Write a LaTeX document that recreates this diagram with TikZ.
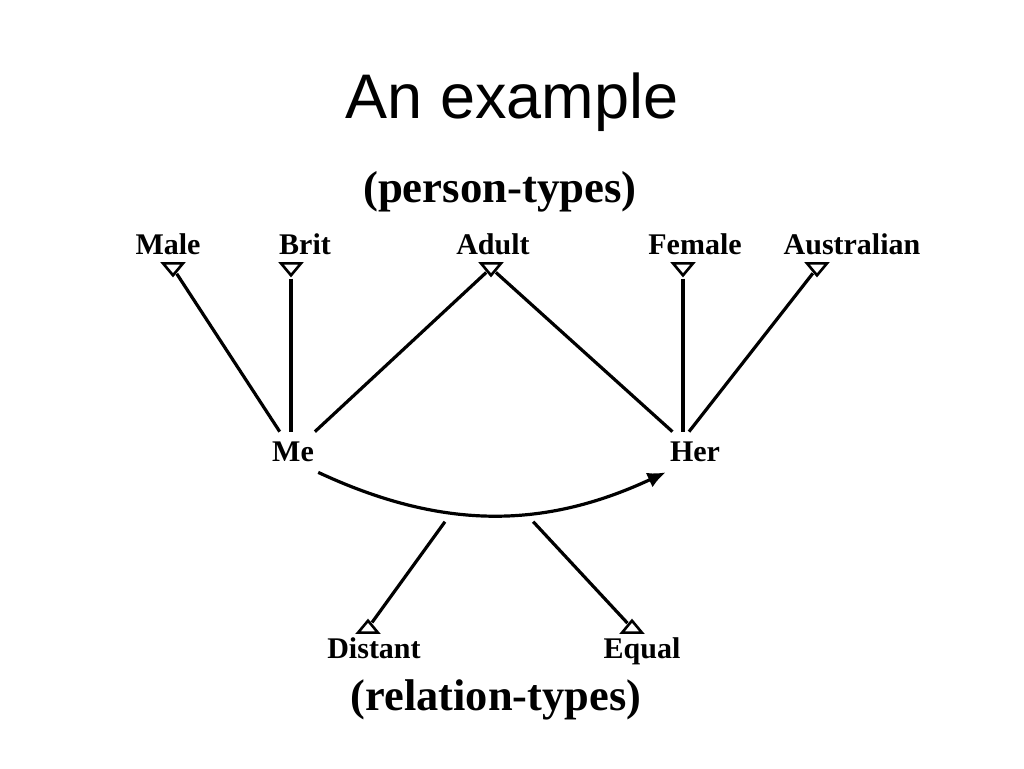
\documentclass[tikz,border=0pt]{standalone}
\usepackage{fontspec}
\setmainfont{Liberation Serif}
\newfontfamily\titlefont{Liberation Sans}
\usetikzlibrary{shapes.geometric,arrows.meta}

\tikzset{
  typ/.style={font=\bfseries\fontsize{15}{18}\selectfont, anchor=base, inner sep=0pt},
  ent/.style={font=\bfseries\fontsize{15}{18}\selectfont, inner xsep=2pt, inner ysep=5pt},
  tridown/.style={isosceles triangle, isosceles triangle stretches, draw, line width=1.3pt,
    shape border rotate=270, minimum width=10pt, minimum height=6pt, inner sep=0pt},
  triup/.style={tridown, shape border rotate=90},
  link/.style={line width=1.6pt}
}

\begin{document}
\begin{tikzpicture}[x=0.5pt,y=-0.5pt]
\useasboundingbox (0,0) rectangle (1024,768);

\node[anchor=base, font=\titlefont\fontsize{31.5}{36}\selectfont] (title) at (512,118) {An example};
\node[anchor=base, font=\bfseries\fontsize{22.4}{26}\selectfont] (ptypes) at (500,202) {(person-types)};

\node[typ] (male) at (168,254) {Male};
\node[typ] (brit) at (305,254) {Brit};
\node[typ] (adult) at (493,254) {Adult};
\node[typ] (female) at (695,254) {Female};
\node[typ] (aus) at (852,254) {Australian};

\node[tridown] (tmale) at (173,268) {};
\node[tridown] (tbrit) at (291,268) {};
\node[tridown] (tadult) at (491,268) {};
\node[tridown] (tfemale) at (683,268) {};
\node[tridown] (taus) at (817,268) {};

\node[ent] (me) at (293,452) {Me};
\node[ent] (her) at (695,452) {Her};

\draw[link] (tmale) -- (me);
\draw[link] (tbrit) -- (tbrit |- me.north);
\draw[link] (tadult) -- (me);
\draw[link] (tadult) -- (her);
\draw[link] (tfemale) -- (tfemale |- her.north);
\draw[link] (taus) -- ([xshift=3pt]tfemale |- her.north);

\draw[link, -{Latex[length=9pt,width=8pt]}] (me.south east) to[bend right=25]
  coordinate[pos=0.38] (rdist) coordinate[pos=0.6] (requal) (her.south west);

\node[triup] (tdist) at (368,628) {};
\node[triup] (tequal) at (632,628) {};
\node[typ] (dist) at (374,658) {Distant};
\node[typ] (equal) at (642,658) {Equal};

\draw[link, shorten >=5.5pt] (tdist) -- (rdist);
\draw[link, shorten >=5.5pt] (tequal) -- (requal);

\node[anchor=base, font=\bfseries\fontsize{22.2}{26}\selectfont] (rtypes) at (496,710) {(relation-types)};
\end{tikzpicture}
\end{document}
